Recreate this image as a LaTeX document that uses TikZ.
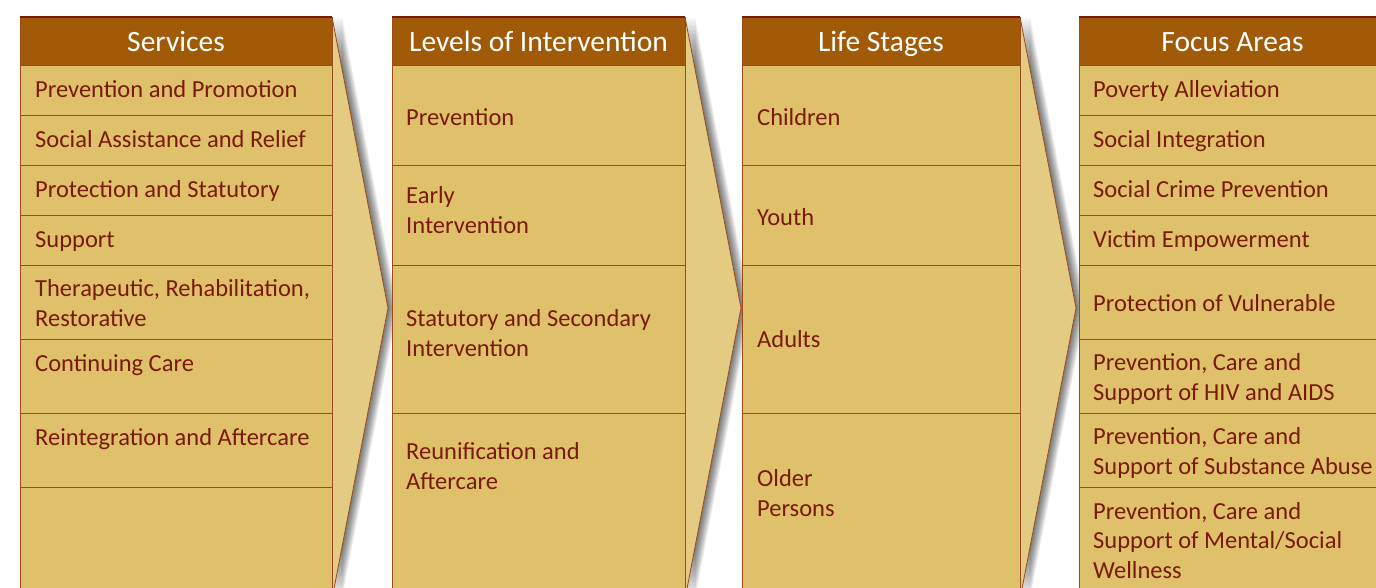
\documentclass[tikz,border=0pt]{standalone}
\usepackage{fontspec}
\setmainfont{Carlito}
\definecolor{hdr}{HTML}{A15A08}
\definecolor{cell}{HTML}{E0C16B}
\definecolor{arr}{HTML}{E4CB82}
\definecolor{txt}{HTML}{7A1A0A}
\definecolor{ln}{HTML}{9A4A1C}
\definecolor{edgec}{HTML}{7A1A0A}
\newcommand\chevron[2]{%
  \foreach \k in {1,...,10}{\fill[black,opacity=0.065] ({#1+\k},17) -- ({#2+\k},308) -- ({#1+\k},599) -- cycle;}
  \fill[arr] (#1,17) -- (#2,308) -- (#1,599) -- cycle;
  \draw[ln,line width=0.8pt] (#1,17) -- (#2,308) -- (#1,599);}
\newcommand\column[3]{% left, right, row lines
  \filldraw[cellbox] (#1,17) rectangle (#2,640);
  \filldraw[hdrbox] (#1,17) rectangle (#2,65);
  \draw[edgec,line width=1.5pt] (#1,17) -- (#2,17);
  \foreach \yy in {#3}{\draw[ln,line width=1pt] (#1,\yy) -- (#2,\yy);}}
\begin{document}
\begin{tikzpicture}[x=1pt,y=-1pt,
 cellbox/.style={fill=cell,draw=ln,line width=1pt},
 hdrbox/.style={fill=hdr,draw=ln,line width=1pt},
 hdrtext/.style={text=white,font=\fontsize{29.5}{34}\selectfont,inner sep=0pt,anchor=base},
 itemtext/.style={text=txt,font=\fontsize{24.5}{29.5}\selectfont,inner sep=0pt,anchor=base west,align=left}]
\useasboundingbox (0,0) rectangle (1376,587);
\clip (0,0) rectangle (1376,587);
\fill[white] (0,0) rectangle (1376,587);
% arrows
\chevron{332}{388}
\chevron{685}{741}
\chevron{1020}{1076}
% columns
\column{20}{332}{115,165,215,265,339,413,487}
\column{392}{685}{165,265,413}
\column{742}{1020}{165,265,413}
\column{1079}{1386}{115,165,215,265,339,413,487}
% headers
\node[hdrtext] (h1) at (176,51) {Services};
\node[hdrtext] (h2) at (538.5,51) {Levels of Intervention};
\node[hdrtext] (h3) at (881,51) {Life Stages};
\node[hdrtext] (h4) at (1232.5,51) {Focus Areas};
% services
\node[itemtext] (s1) at (35,97) {Prevention and Promotion};
\node[itemtext] (s2) at (35,147) {Social Assistance and Relief};
\node[itemtext] (s3) at (35,197) {Protection and Statutory};
\node[itemtext] (s4) at (35,247) {Support};
\node[itemtext] (s5) at (35,326) {Therapeutic, Rehabilitation,\\Restorative};
\node[itemtext] (s6) at (35,371) {Continuing Care};
\node[itemtext] (s7) at (35,445) {Reintegration and Aftercare};
% levels
\node[itemtext] (l1) at (406,125) {Prevention};
\node[itemtext] (l2) at (406,233) {Early\\Intervention};
\node[itemtext] (l3) at (406,356) {Statutory and Secondary\\Intervention};
\node[itemtext] (l4) at (406,489) {Reunification and\\Aftercare};
% life stages
\node[itemtext] (a1) at (757,125) {Children};
\node[itemtext] (a2) at (757,225) {Youth};
\node[itemtext] (a3) at (757,347) {Adults};
\node[itemtext] (a4) at (757,516) {Older\\Persons};
% focus areas
\node[itemtext] (f1) at (1093,97) {Poverty Alleviation};
\node[itemtext] (f2) at (1093,147) {Social Integration};
\node[itemtext] (f3) at (1093,197) {Social Crime Prevention};
\node[itemtext] (f4) at (1093,247) {Victim Empowerment};
\node[itemtext] (f5) at (1093,311) {Protection of Vulnerable};
\node[itemtext] (f6) at (1093,400) {Prevention, Care and\\Support of HIV and AIDS};
\node[itemtext] (f7) at (1093,474) {Prevention, Care and\\Support of Substance Abuse};
\node[itemtext] (f8) at (1093,578) {Prevention, Care and\\Support of Mental/Social\\Wellness};
\end{tikzpicture}
\end{document}
